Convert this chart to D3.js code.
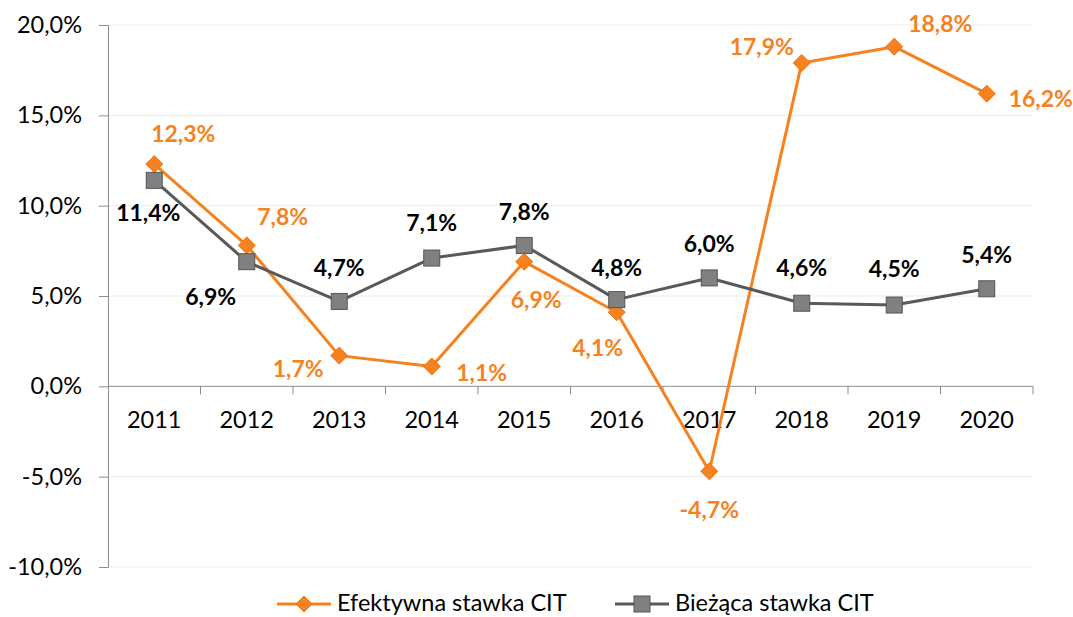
<!DOCTYPE html>
<html>
<head>
<meta charset="utf-8">
<script src="https://cdn.jsdelivr.net/npm/d3@7"></script>
<style>
  body { margin: 0; background: #fff; }
  svg text { font-family: "Lato", "Noto Sans", sans-serif; }
</style>
</head>
<body>
<svg id="chart" width="1073" height="617"></svg>
<script>
// data
var years = ["2011", "2012", "2013", "2014", "2015", "2016", "2017", "2018", "2019", "2020"];
var efektywna = [12.3, 7.8, 1.7, 1.1, 6.9, 4.1, -4.7, 17.9, 18.8, 16.2];
var biezaca = [11.4, 6.9, 4.7, 7.1, 7.8, 4.8, 6.0, 4.6, 4.5, 5.4];
var yTicks = [-10, -5, 0, 5, 10, 15, 20];
var seriesNames = ["Efektywna stawka CIT", "Bieżąca stawka CIT"];

// label placement (dx, dy from the marker to the text centre)
var efOffsets = [[29, -30], [36, -28], [-41, 13], [50, 6], [12, 38], [-19, 36], [0, 39], [-40, -16], [46, -23], [54, 5]];
var biOffsets = [[-6, 33], [-36, 35], [0, -33], [0, -35], [0, -33], [0, -32], [0, -34], [0, -35], [0, -36], [0, -34]];

var orange = "#F5821F";
var grey = "#595959";
var fmt = function (v) { return v.toFixed(1).replace(".", ",") + "%"; };

var svg = d3.select("#chart");
var plotLeft = 108, plotRight = 1033, plotTop = 25, plotBottom = 567;

var x = d3.scaleBand().domain(years).range([plotLeft, plotRight]);
var y = d3.scaleLinear().domain([-10, 20]).range([plotBottom, plotTop]);

// gridlines
svg.append("g").selectAll("line")
  .data(yTicks.filter(function (d) { return d !== 0; }))
  .enter().append("line")
  .attr("x1", plotLeft).attr("x2", plotRight)
  .attr("y1", function (d) { return y(d); }).attr("y2", function (d) { return y(d); })
  .attr("stroke", "#ececec").attr("stroke-width", 1);

// y axis
var yAxis = svg.append("g")
  .attr("transform", "translate(" + plotLeft + ",0)")
  .call(d3.axisLeft(y).tickValues(yTicks).tickSize(9).tickPadding(17).tickFormat(fmt));
yAxis.select(".domain").attr("stroke", "#8c8c8c");
yAxis.selectAll(".tick line").attr("stroke", "#8c8c8c");
yAxis.selectAll("text").attr("font-size", 23.5).attr("fill", "#000");

// x axis at zero
var x0 = y(0);
svg.append("line")
  .attr("x1", plotLeft).attr("x2", plotRight).attr("y1", x0).attr("y2", x0)
  .attr("stroke", "#8c8c8c");
svg.append("g").selectAll("line")
  .data(years)
  .enter().append("line")
  .attr("x1", function (d) { return x(d) + x.bandwidth(); })
  .attr("x2", function (d) { return x(d) + x.bandwidth(); })
  .attr("y1", x0).attr("y2", x0 + 8)
  .attr("stroke", "#8c8c8c");
svg.append("g").selectAll("text")
  .data(years)
  .enter().append("text")
  .attr("x", function (d) { return x(d) + x.bandwidth() / 2; })
  .attr("y", x0 + 42)
  .attr("text-anchor", "middle")
  .attr("font-size", 23.5)
  .attr("fill", "#000")
  .text(function (d) { return d; });

var cx = function (d, i) { return x(years[i]) + x.bandwidth() / 2; };
var line = d3.line().x(cx).y(function (d) { return y(d); });

function diamond(g, s) {
  return g.append("path")
    .attr("d", "M0," + (-s) + "L" + s + ",0L0," + s + "L" + (-s) + ",0Z")
    .attr("fill", orange).attr("stroke", "#EE7518").attr("stroke-width", 1);
}
function square(g, s) {
  return g.append("rect")
    .attr("x", -s).attr("y", -s).attr("width", 2 * s).attr("height", 2 * s)
    .attr("fill", "#808080").attr("stroke", "#555").attr("stroke-width", 1);
}

// orange series
svg.append("path").datum(efektywna)
  .attr("d", line).attr("fill", "none")
  .attr("stroke", orange).attr("stroke-width", 3).attr("stroke-linejoin", "round");
efektywna.forEach(function (d, i) {
  diamond(svg.append("g").attr("transform", "translate(" + cx(d, i) + "," + y(d) + ")"), 8.5);
});

// grey series
svg.append("path").datum(biezaca)
  .attr("d", line).attr("fill", "none")
  .attr("stroke", grey).attr("stroke-width", 3).attr("stroke-linejoin", "round");
biezaca.forEach(function (d, i) {
  square(svg.append("g").attr("transform", "translate(" + cx(d, i) + "," + y(d) + ")"), 8);
});

// data labels
function labels(data, offsets, color) {
  svg.append("g").selectAll("text")
    .data(data)
    .enter().append("text")
    .attr("x", function (d, i) { return cx(d, i) + offsets[i][0]; })
    .attr("y", function (d, i) { return y(d) + offsets[i][1]; })
    .attr("dy", "0.35em")
    .attr("text-anchor", "middle")
    .attr("font-size", 23)
    .attr("font-weight", "bold")
    .attr("fill", color)
    .text(fmt);
}
labels(efektywna, efOffsets, orange);
labels(biezaca, biOffsets, "#000");

// legend
var legend = svg.append("g");
var items = [{ x: 277, color: orange, mark: diamond }, { x: 615, color: grey, mark: square }];
items.forEach(function (it, i) {
  var g = legend.append("g").attr("transform", "translate(" + it.x + ",604)");
  g.append("line").attr("x1", 0).attr("x2", 54).attr("stroke", it.color).attr("stroke-width", 3);
  it.mark(g.append("g").attr("transform", "translate(27,0)"), 8);
  g.append("text").attr("x", 60).attr("y", 7)
    .attr("font-size", 23.5).attr("fill", "#000").text(seriesNames[i]);
});
</script>
</body>
</html>
